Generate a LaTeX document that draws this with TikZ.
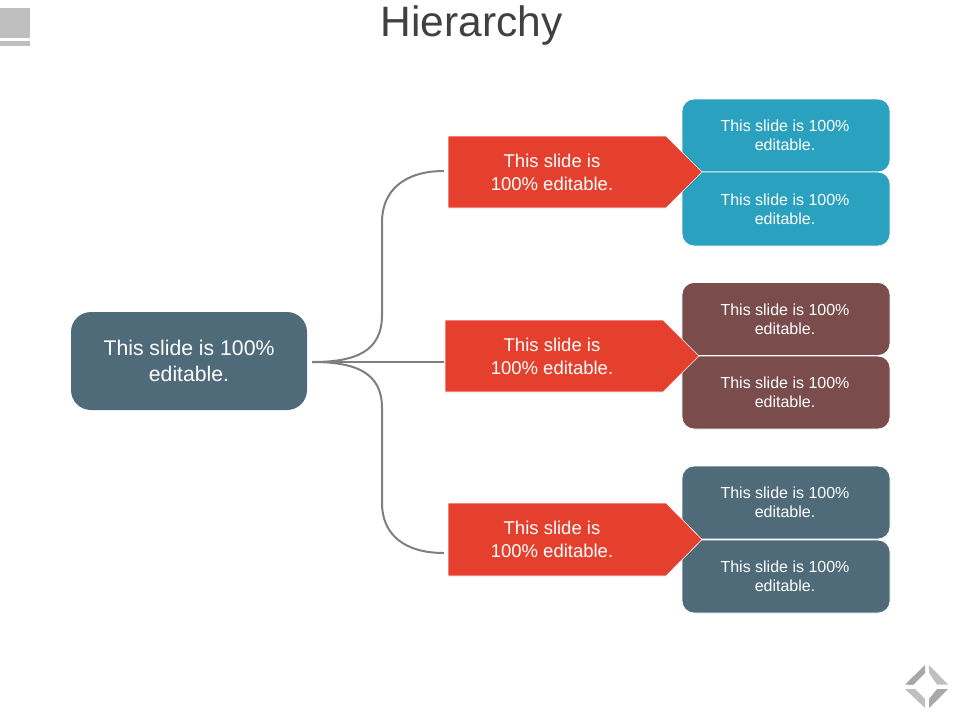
\documentclass[tikz,border=0pt]{standalone}
\usepackage{fontspec}
\setmainfont{Liberation Sans}
\definecolor{tealbox}{HTML}{2AA1BF}
\definecolor{brownbox}{HTML}{7A4C4C}
\definecolor{slatebox}{HTML}{4F6B7A}
\definecolor{redarrow}{HTML}{E53F2D}
\definecolor{conn}{HTML}{7F7F7F}
\definecolor{icon}{HTML}{BFBFBF}
\definecolor{icond}{HTML}{A8A8A8}
\definecolor{titlec}{HTML}{404040}
\tikzset{
  x=1pt,y=-1pt,
  leaf/.style={rounded corners=12pt,minimum width=208pt,text=white,inner sep=0pt,align=center,
    draw=white,line width=0.8pt,font=\fontsize{16}{19}\selectfont},
  arrowbody/.style={fill=redarrow,draw=white,line width=0.6pt},
  arrowtext/.style={text=white,inner sep=0pt,minimum height=72pt,align=center,
    font=\fontsize{18.5}{23}\selectfont},
  connector/.style={draw=conn,line width=2pt},
}
\begin{document}
\begin{tikzpicture}
\useasboundingbox (0,0) rectangle (960,720);
\node[text=titlec,font=\fontsize{42.5}{46}\selectfont,inner sep=0pt] (title) at (471.5,25.5) {Hierarchy};
% top-left icon
\fill[icon] (0,8) rectangle (30,38);
\fill[icon] (0,41) rectangle (30,46);
% main box
\node[fill=slatebox,rounded corners=20pt,minimum width=236pt,minimum height=98pt,text=white,inner sep=0pt,align=center,
  font=\fontsize{21.2}{26}\selectfont] (main) at (189,361) {This slide is 100\%\\editable.};
% leaves
\node[leaf,fill=tealbox,minimum height=73pt] (l1) at (786,135.5) {\hspace*{-2pt}This slide is 100\%\\\hspace*{-2pt}editable.};
\node[leaf,fill=tealbox,minimum height=74pt] (l2) at (786,209) {\hspace*{-2pt}This slide is 100\%\\\hspace*{-2pt}editable.};
\node[leaf,fill=brownbox,minimum height=73pt] (l3) at (786,319) {\hspace*{-2pt}This slide is 100\%\\\hspace*{-2pt}editable.};
\node[leaf,fill=brownbox,minimum height=73pt] (l4) at (786,392.5) {\hspace*{-2pt}This slide is 100\%\\\hspace*{-2pt}editable.};
\node[leaf,fill=slatebox,minimum height=73pt] (l5) at (786,502.5) {\hspace*{-2pt}This slide is 100\%\\\hspace*{-2pt}editable.};
\node[leaf,fill=slatebox,minimum height=73pt] (l6) at (786,576.5) {\hspace*{-2pt}This slide is 100\%\\\hspace*{-2pt}editable.};
% arrows
\path[arrowbody] (448,136) -- (666,136) -- (702,172) -- (666,208) -- (448,208) -- cycle;
\path[arrowbody] (445,320) -- (663,320) -- (699,356) -- (663,392) -- (445,392) -- cycle;
\path[arrowbody] (448,503) -- (666,503) -- (702,539.5) -- (666,576) -- (448,576) -- cycle;
\node[arrowtext,minimum width=208pt] (a1) at (552,172) {This slide is\\100\% editable.};
\node[arrowtext,minimum width=214pt] (a2) at (552,356) {This slide is\\100\% editable.};
\node[arrowtext,minimum width=208pt] (a3) at (552,539.5) {This slide is\\100\% editable.};
% connectors
\coordinate (hub) at ([xshift=5pt,yshift=-1pt]main.east);
\draw[connector] (hub) .. controls (355,362) and (382,352) .. (382,315) -- (382,222)
  .. controls (382,190) and (405,171) .. ([xshift=-4pt,yshift=1pt]a1.west);
\draw[connector] (hub) -- ([xshift=-1pt]a2.west |- hub);
\draw[connector] (hub) .. controls (355,362) and (382,372) .. (382,408) -- (382,503)
  .. controls (382,535) and (405,553) .. ([xshift=-4pt,yshift=-13.5pt]a3.west);
% bottom-right logo
\fill[icond] (925,665) -- (925,673) -- (913,685) -- (905,684.5) -- cycle;
\fill[icon] (929,665) -- (929,673) -- (937,684.5) -- (948,684.5) -- cycle;
\fill[icon] (905,689) -- (915,689) -- (925,699) -- (925,708) -- cycle;
\fill[icond] (948,689) -- (937,689) -- (929,699) -- (929,708) -- cycle;
\end{tikzpicture}
\end{document}
